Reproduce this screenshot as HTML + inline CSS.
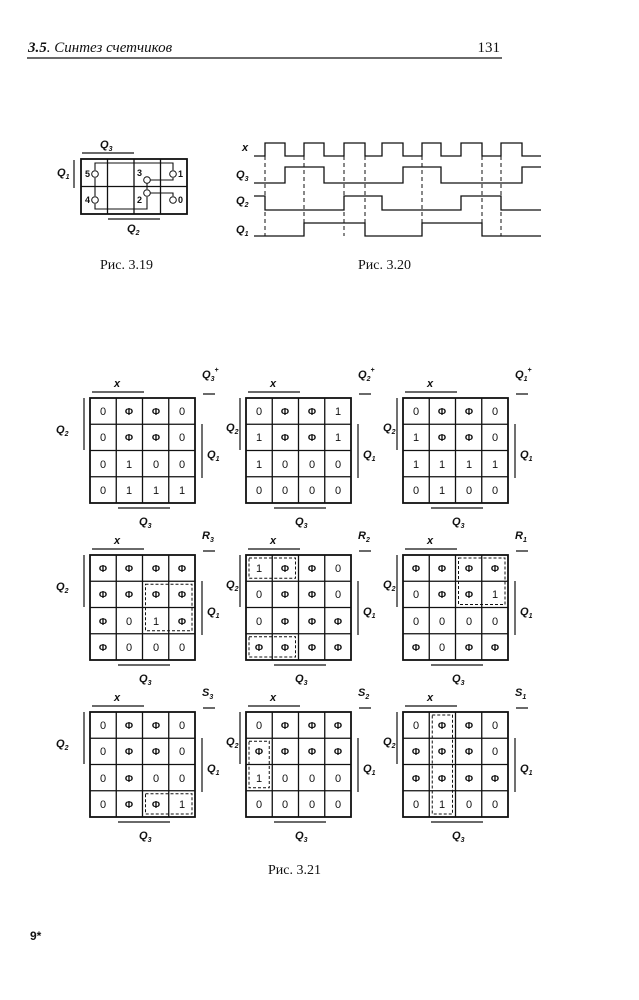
<!DOCTYPE html>
<html><head><meta charset="utf-8"><style>
html,body{margin:0;padding:0;background:#fff}
svg{display:block}
text{font-family:"Liberation Sans",sans-serif;fill:#111}
.c{font-size:11px;text-anchor:middle}
.p{font-size:10px;text-anchor:middle;font-weight:bold}
.l{font-size:11px;font-style:italic;font-weight:bold}
.s{font-size:7px}
.cap{font-family:"Liberation Serif",serif;font-size:14px}
</style></head><body>
<svg width="639" height="1000" viewBox="0 0 639 1000" xmlns="http://www.w3.org/2000/svg">
<defs>
<g id="grid" fill="none" stroke="#111">
<rect x="0" y="0" width="105" height="105" stroke-width="1.8"/>
<path d="M26.25 0V105M52.5 0V105M78.75 0V105M0 26.25H105M0 52.5H105M0 78.75H105" stroke-width="1.3"/>
<path d="M2 -6H54M-6 0V52M112 26V80M28 110H80M113 -4H125" stroke-width="1.2"/>
</g>
<g id="lab0">
<text class="l" x="24" y="-11">x</text>
<text class="l" x="117" y="60">Q<tspan class="s" dy="3">1</tspan></text>
<text class="l" x="49" y="127">Q<tspan class="s" dy="3">3</tspan></text>
</g>
<g id="labA"><use href="#lab0"/><text class="l" x="-34" y="35">Q<tspan class="s" dy="3">2</tspan></text></g>
<g id="labB"><use href="#lab0"/><text class="l" x="-20" y="33">Q<tspan class="s" dy="3">2</tspan></text></g>
</defs>

<!-- header -->
<text x="28" y="52" style="font-family:'Liberation Serif',serif;font-size:15px;font-style:italic"><tspan font-weight="bold">3.5</tspan>.  Синтез счетчиков</text>
<text x="500" y="52" text-anchor="end" class="cap" style="font-size:15px">131</text>
<line x1="27" y1="58" x2="502" y2="58" stroke="#111" stroke-width="1.3"/>

<!-- Fig 3.19 -->
<g fill="none" stroke="#111">
<rect x="81" y="159" width="106" height="55" stroke-width="1.8"/>
<path d="M107.5 159V214M134 159V214M160.5 159V214M81 186.5H187" stroke-width="1.3"/>
<path d="M82 153H134M74 160V188M108 219H160" stroke-width="1.2"/>
<path d="M95 170V163H173V170M95 178V196M95 204V209H147V197M147 183V189M150 180H173V178M150 193H173V196" stroke-width="1.1"/>
<circle cx="95" cy="174" r="3.3" fill="#fff"/><circle cx="95" cy="200" r="3.3" fill="#fff"/>
<circle cx="173" cy="174" r="3.3" fill="#fff"/><circle cx="173" cy="200" r="3.3" fill="#fff"/>
<circle cx="147" cy="180" r="3.3" fill="#fff"/><circle cx="147" cy="193" r="3.3" fill="#fff"/>
</g>
<g style="font-size:9px;font-weight:bold">
<text x="85" y="177">5</text><text x="85" y="203">4</text><text x="178" y="177">1</text><text x="178" y="203">0</text>
<text x="137" y="176">3</text><text x="137" y="203">2</text></g>
<text class="l" x="100" y="148">Q<tspan class="s" dy="3">3</tspan></text>
<text class="l" x="57" y="176">Q<tspan class="s" dy="3">1</tspan></text>
<text class="l" x="127" y="232">Q<tspan class="s" dy="3">2</tspan></text>
<text class="cap" x="100" y="269">Рис. 3.19</text>

<!-- Fig 3.20 -->
<g fill="none" stroke="#111" stroke-width="1.3">
<path d="M254 156H265V143H285V156H304V143H324V156H344V143H365V156H382V143H403V156H422V143H441V156H461V143H482V156H501V143H522V156H541"/>
<path d="M254 183H285V167H324V183H403V167H441V183H522V167H541"/>
<path d="M254 196H265V210H344V196H382V210H461V196H501V210H541"/>
<path d="M254 236H304V223H365V236H422V223H482V236H541"/>
<path d="M265 156V236M304 156V236M344 156V236M365 156V236M422 156V236M482 156V236M501 156V236" stroke-dasharray="4 3" stroke-width="1"/>
</g>
<text class="l" x="242" y="151">x</text>
<text class="l" x="236" y="178">Q<tspan class="s" dy="3">3</tspan></text>
<text class="l" x="236" y="204">Q<tspan class="s" dy="3">2</tspan></text>
<text class="l" x="236" y="233">Q<tspan class="s" dy="3">1</tspan></text>
<text class="cap" x="358" y="269">Рис. 3.20</text>

<!-- Map 1 Q3+ -->
<g transform="translate(90,398)"><use href="#grid"/><use href="#labA"/>
<text class="l" x="112" y="-20">Q<tspan class="s" dy="3">3</tspan><tspan class="s" dy="-9">+</tspan></text>
<text class="c" x="13" y="17">0</text><text class="p" x="39" y="17">Φ</text><text class="p" x="66" y="17">Φ</text><text class="c" x="92" y="17">0</text>
<text class="c" x="13" y="43">0</text><text class="p" x="39" y="43">Φ</text><text class="p" x="66" y="43">Φ</text><text class="c" x="92" y="43">0</text>
<text class="c" x="13" y="70">0</text><text class="c" x="39" y="70">1</text><text class="c" x="66" y="70">0</text><text class="c" x="92" y="70">0</text>
<text class="c" x="13" y="96">0</text><text class="c" x="39" y="96">1</text><text class="c" x="66" y="96">1</text><text class="c" x="92" y="96">1</text>
</g>
<!-- Map 2 Q2+ -->
<g transform="translate(246,398)"><use href="#grid"/><use href="#labB"/>
<text class="l" x="112" y="-20">Q<tspan class="s" dy="3">2</tspan><tspan class="s" dy="-9">+</tspan></text>
<text class="c" x="13" y="17">0</text><text class="p" x="39" y="17">Φ</text><text class="p" x="66" y="17">Φ</text><text class="c" x="92" y="17">1</text>
<text class="c" x="13" y="43">1</text><text class="p" x="39" y="43">Φ</text><text class="p" x="66" y="43">Φ</text><text class="c" x="92" y="43">1</text>
<text class="c" x="13" y="70">1</text><text class="c" x="39" y="70">0</text><text class="c" x="66" y="70">0</text><text class="c" x="92" y="70">0</text>
<text class="c" x="13" y="96">0</text><text class="c" x="39" y="96">0</text><text class="c" x="66" y="96">0</text><text class="c" x="92" y="96">0</text>
</g>
<!-- Map 3 Q1+ -->
<g transform="translate(403,398)"><use href="#grid"/><use href="#labB"/>
<text class="l" x="112" y="-20">Q<tspan class="s" dy="3">1</tspan><tspan class="s" dy="-9">+</tspan></text>
<text class="c" x="13" y="17">0</text><text class="p" x="39" y="17">Φ</text><text class="p" x="66" y="17">Φ</text><text class="c" x="92" y="17">0</text>
<text class="c" x="13" y="43">1</text><text class="p" x="39" y="43">Φ</text><text class="p" x="66" y="43">Φ</text><text class="c" x="92" y="43">0</text>
<text class="c" x="13" y="70">1</text><text class="c" x="39" y="70">1</text><text class="c" x="66" y="70">1</text><text class="c" x="92" y="70">1</text>
<text class="c" x="13" y="96">0</text><text class="c" x="39" y="96">1</text><text class="c" x="66" y="96">0</text><text class="c" x="92" y="96">0</text>
</g>

<!-- Map R3 -->
<g transform="translate(90,555)"><use href="#grid"/><use href="#labA"/>
<text class="l" x="112" y="-16">R<tspan class="s" dy="3">3</tspan></text>
<text class="p" x="13" y="17">Φ</text><text class="p" x="39" y="17">Φ</text><text class="p" x="66" y="17">Φ</text><text class="p" x="92" y="17">Φ</text>
<text class="p" x="13" y="43">Φ</text><text class="p" x="39" y="43">Φ</text><text class="p" x="66" y="43">Φ</text><text class="p" x="92" y="43">Φ</text>
<text class="p" x="13" y="70">Φ</text><text class="c" x="39" y="70">0</text><text class="c" x="66" y="70">1</text><text class="p" x="92" y="70">Φ</text>
<text class="p" x="13" y="96">Φ</text><text class="c" x="39" y="96">0</text><text class="c" x="66" y="96">0</text><text class="c" x="92" y="96">0</text>
<rect x="55.5" y="29.25" width="46.5" height="46.5" fill="none" stroke="#111" stroke-dasharray="3 2"/>
</g>
<!-- Map R2 -->
<g transform="translate(246,555)"><use href="#grid"/><use href="#labB"/>
<text class="l" x="112" y="-16">R<tspan class="s" dy="3">2</tspan></text>
<text class="c" x="13" y="17">1</text><text class="p" x="39" y="17">Φ</text><text class="p" x="66" y="17">Φ</text><text class="c" x="92" y="17">0</text>
<text class="c" x="13" y="43">0</text><text class="p" x="39" y="43">Φ</text><text class="p" x="66" y="43">Φ</text><text class="c" x="92" y="43">0</text>
<text class="c" x="13" y="70">0</text><text class="p" x="39" y="70">Φ</text><text class="p" x="66" y="70">Φ</text><text class="p" x="92" y="70">Φ</text>
<text class="p" x="13" y="96">Φ</text><text class="p" x="39" y="96">Φ</text><text class="p" x="66" y="96">Φ</text><text class="p" x="92" y="96">Φ</text>
<rect x="3" y="3" width="46.5" height="20.25" fill="none" stroke="#111" stroke-dasharray="3 2"/>
<rect x="3" y="81.75" width="46.5" height="20.25" fill="none" stroke="#111" stroke-dasharray="3 2"/>
</g>
<!-- Map R1 -->
<g transform="translate(403,555)"><use href="#grid"/><use href="#labB"/>
<text class="l" x="112" y="-16">R<tspan class="s" dy="3">1</tspan></text>
<text class="p" x="13" y="17">Φ</text><text class="p" x="39" y="17">Φ</text><text class="p" x="66" y="17">Φ</text><text class="p" x="92" y="17">Φ</text>
<text class="c" x="13" y="43">0</text><text class="p" x="39" y="43">Φ</text><text class="p" x="66" y="43">Φ</text><text class="c" x="92" y="43">1</text>
<text class="c" x="13" y="70">0</text><text class="c" x="39" y="70">0</text><text class="c" x="66" y="70">0</text><text class="c" x="92" y="70">0</text>
<text class="p" x="13" y="96">Φ</text><text class="c" x="39" y="96">0</text><text class="p" x="66" y="96">Φ</text><text class="p" x="92" y="96">Φ</text>
<rect x="55.5" y="3" width="46.5" height="46.5" fill="none" stroke="#111" stroke-dasharray="3 2"/>
</g>

<!-- Map S3 -->
<g transform="translate(90,712)"><use href="#grid"/><use href="#labA"/>
<text class="l" x="112" y="-16">S<tspan class="s" dy="3">3</tspan></text>
<text class="c" x="13" y="17">0</text><text class="p" x="39" y="17">Φ</text><text class="p" x="66" y="17">Φ</text><text class="c" x="92" y="17">0</text>
<text class="c" x="13" y="43">0</text><text class="p" x="39" y="43">Φ</text><text class="p" x="66" y="43">Φ</text><text class="c" x="92" y="43">0</text>
<text class="c" x="13" y="70">0</text><text class="p" x="39" y="70">Φ</text><text class="c" x="66" y="70">0</text><text class="c" x="92" y="70">0</text>
<text class="c" x="13" y="96">0</text><text class="p" x="39" y="96">Φ</text><text class="p" x="66" y="96">Φ</text><text class="c" x="92" y="96">1</text>
<rect x="55.5" y="81.75" width="46.5" height="20.25" fill="none" stroke="#111" stroke-dasharray="3 2"/>
</g>
<!-- Map S2 -->
<g transform="translate(246,712)"><use href="#grid"/><use href="#labB"/>
<text class="l" x="112" y="-16">S<tspan class="s" dy="3">2</tspan></text>
<text class="c" x="13" y="17">0</text><text class="p" x="39" y="17">Φ</text><text class="p" x="66" y="17">Φ</text><text class="p" x="92" y="17">Φ</text>
<text class="p" x="13" y="43">Φ</text><text class="p" x="39" y="43">Φ</text><text class="p" x="66" y="43">Φ</text><text class="p" x="92" y="43">Φ</text>
<text class="c" x="13" y="70">1</text><text class="c" x="39" y="70">0</text><text class="c" x="66" y="70">0</text><text class="c" x="92" y="70">0</text>
<text class="c" x="13" y="96">0</text><text class="c" x="39" y="96">0</text><text class="c" x="66" y="96">0</text><text class="c" x="92" y="96">0</text>
<rect x="3" y="29.25" width="20.25" height="46.5" fill="none" stroke="#111" stroke-dasharray="3 2"/>
</g>
<!-- Map S1 -->
<g transform="translate(403,712)"><use href="#grid"/><use href="#labB"/>
<text class="l" x="112" y="-16">S<tspan class="s" dy="3">1</tspan></text>
<text class="c" x="13" y="17">0</text><text class="p" x="39" y="17">Φ</text><text class="p" x="66" y="17">Φ</text><text class="c" x="92" y="17">0</text>
<text class="p" x="13" y="43">Φ</text><text class="p" x="39" y="43">Φ</text><text class="p" x="66" y="43">Φ</text><text class="c" x="92" y="43">0</text>
<text class="p" x="13" y="70">Φ</text><text class="p" x="39" y="70">Φ</text><text class="p" x="66" y="70">Φ</text><text class="p" x="92" y="70">Φ</text>
<text class="c" x="13" y="96">0</text><text class="c" x="39" y="96">1</text><text class="c" x="66" y="96">0</text><text class="c" x="92" y="96">0</text>
<rect x="29.25" y="3" width="20.25" height="99" fill="none" stroke="#111" stroke-dasharray="3 2"/>
</g>

<text class="cap" x="268" y="874">Рис. 3.21</text>
<text x="30" y="940" style="font-family:'Liberation Sans',sans-serif;font-size:12px;font-weight:bold">9*</text>
</svg>
</body></html>
